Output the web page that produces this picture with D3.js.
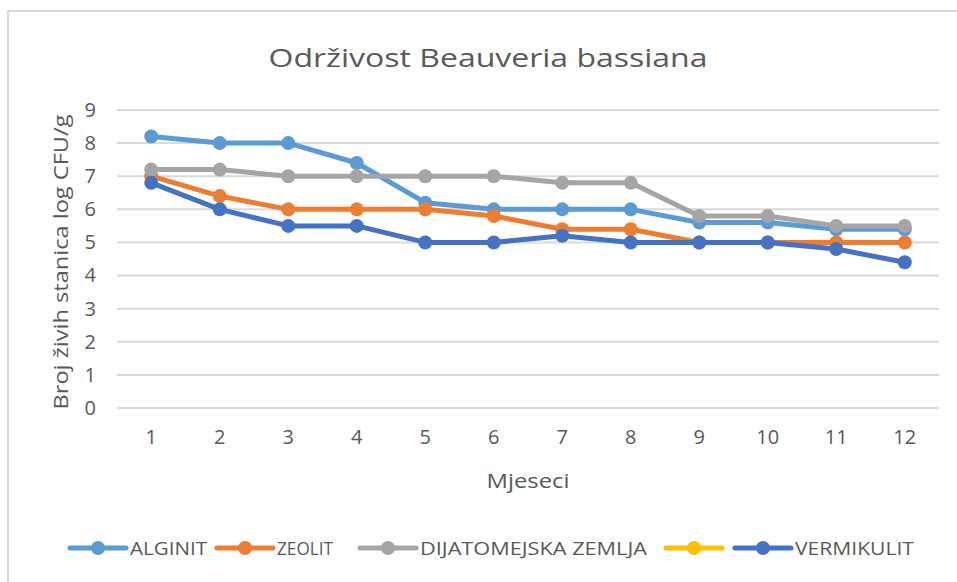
<!DOCTYPE html>
<html><head><meta charset="utf-8">
<script src="https://cdn.jsdelivr.net/npm/d3@7"></script>
<style>
html,body{margin:0;padding:0;background:#fff;}
svg{display:block;font-family:"Open Sans","Noto Sans",sans-serif;}
</style></head>
<body>
<svg id="c" width="957" height="582"></svg>
<script>
const months = ["1","2","3","4","5","6","7","8","9","10","11","12"];
const alginit = [8.2,8.0,8.0,7.4,6.2,6.0,6.0,6.0,5.6,5.6,5.4,5.4];
const zeolit = [7.0,6.4,6.0,6.0,6.0,5.8,5.4,5.4,5.0,5.0,5.0,5.0];
const dijatomejska = [7.2,7.2,7.0,7.0,7.0,7.0,6.8,6.8,5.8,5.8,5.5,5.5];
const prazno = [];
const vermikulit = [6.8,6.0,5.5,5.5,5.0,5.0,5.2,5.0,5.0,5.0,4.8,4.4];
const yTicks = [0,1,2,3,4,5,6,7,8,9];
const seriesNames = ["ALGINIT","ZEOLIT","DIJATOMEJSKA ZEMLJA","","VERMIKULIT"];
const seriesColors = ["#5B9BD5","#ED7D31","#A5A5A5","#FFC000","#4472C4"];
const seriesData = [alginit, zeolit, dijatomejska, prazno, vermikulit];

const svg = d3.select("#c");
const txt = "#595959";

// outer frame
svg.append("rect").attr("x",8).attr("y",11).attr("width",1000).attr("height",1000)
  .attr("fill","none").attr("stroke","#d9d9d9").attr("stroke-width",2);

const L=117, R=939, T=110, B=408;
const x = d3.scaleBand().domain(months).range([L,R]);
const y = d3.scaleLinear().domain([0,9]).range([B,T]);

// gridlines
svg.append("g").selectAll("line").data(yTicks).join("line")
  .attr("x1",L).attr("x2",R).attr("y1",d=>y(d)).attr("y2",d=>y(d))
  .attr("stroke","#d9d9d9").attr("stroke-width",2);

// y axis
const ya = svg.append("g").attr("transform",`translate(${L},0)`)
  .call(d3.axisLeft(y).tickValues(yTicks).tickSize(0).tickPadding(21));
ya.select(".domain").remove();
ya.selectAll("text").attr("fill",txt).style("font-size","20px").style("font-family","Open Sans");

// x axis
const xa = svg.append("g").attr("transform",`translate(0,${B})`)
  .call(d3.axisBottom(x).tickSize(0).tickPadding(22));
xa.select(".domain").remove();
xa.selectAll("text").attr("fill",txt).style("font-size","20px").style("font-family","Open Sans");

// title
svg.append("text").attr("x",488).attr("y",67).attr("text-anchor","middle")
  .attr("fill",txt).style("font-size","26px")
  .attr("textLength",439).attr("lengthAdjust","spacingAndGlyphs")
  .text("Održivost Beauveria bassiana");

// axis titles
svg.append("text").attr("x",528).attr("y",488).attr("text-anchor","middle")
  .attr("fill",txt).style("font-size","20px")
  .attr("textLength",83).attr("lengthAdjust","spacingAndGlyphs").text("Mjeseci");
svg.append("text").attr("transform","translate(68,262) rotate(-90)").attr("text-anchor","middle")
  .attr("fill",txt).style("font-size","19.5px")
  .attr("textLength",295).attr("lengthAdjust","spacingAndGlyphs")
  .text("Broj živih stanica log CFU/g");

// lines
const line = d3.line().x((d,i)=>x(months[i])+x.bandwidth()/2).y(d=>y(d));
seriesData.forEach((s,k)=>{
  if(!s.length) return;
  const g = svg.append("g");
  g.append("path").datum(s).attr("d",line).attr("fill","none")
    .attr("stroke",seriesColors[k]).attr("stroke-width",5).attr("stroke-linejoin","round");
  g.selectAll("circle").data(s).join("circle")
    .attr("cx",(d,i)=>x(months[i])+x.bandwidth()/2).attr("cy",d=>y(d)).attr("r",7)
    .attr("fill",seriesColors[k]);
});

// legend
const legX = [70,217,360,666,735];
const legTextW = [77,56,227,0,119];
const ly = 548;
seriesNames.forEach((n,k)=>{
  const g = svg.append("g");
  g.append("line").attr("x1",legX[k]).attr("x2",legX[k]+56).attr("y1",ly).attr("y2",ly)
    .attr("stroke",seriesColors[k]).attr("stroke-width",5).attr("stroke-linecap","round");
  g.append("circle").attr("cx",legX[k]+28).attr("cy",ly).attr("r",7).attr("fill",seriesColors[k]);
  if(n){
    g.append("text").attr("x",legX[k]+60).attr("y",ly+7).attr("fill",txt)
      .style("font-size","18px").attr("textLength",legTextW[k]).attr("lengthAdjust","spacingAndGlyphs")
      .text(n);
  }
});
</script>
</body></html>
